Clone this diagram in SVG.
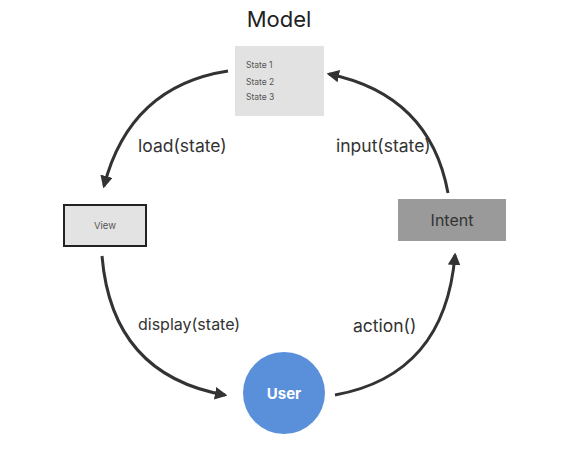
<svg xmlns="http://www.w3.org/2000/svg" width="587" height="466" viewBox="0 0 587 466">
  <defs>
    <marker id="arrow" viewBox="0 0 10 10" refX="8" refY="5" markerWidth="4.2" markerHeight="4.2" orient="auto-start-reverse" markerUnits="strokeWidth">
      <path d="M0,0 L10,5 L0,10 z" fill="#333"/>
    </marker>
    <style>
      .conn { fill: none; stroke: #333; stroke-width: 3; marker-end: url(#arrow); }
      .lbl { font-family: Inter, "Noto Sans", sans-serif; font-size: 17.5px; fill: #333; }
      .small { font-family: Inter, "Noto Sans", sans-serif; font-size: 8.5px; fill: #555; }
    </style>
  </defs>
  <rect width="587" height="466" fill="#fff"/>

  <g id="model">
    <text x="279" y="27" text-anchor="middle" font-family="Inter, 'Noto Sans', sans-serif" font-size="22" fill="#222">Model</text>
    <rect x="235" y="46" width="89" height="70" fill="#e2e2e2"/>
    <text class="small" x="246" y="67.5">State 1</text>
    <text class="small" x="246" y="85">State 2</text>
    <text class="small" x="246" y="99.5">State 3</text>
  </g>

  <g id="view">
    <rect x="64" y="205" width="82" height="41" fill="#e3e3e3" stroke="#222" stroke-width="2"/>
    <text x="105" y="229" text-anchor="middle" font-family="Inter, 'Noto Sans', sans-serif" font-size="9.5" fill="#555">View</text>
  </g>

  <g id="intent">
    <rect x="398" y="199" width="108" height="42" fill="#9a9a9a"/>
    <text x="452" y="226" text-anchor="middle" font-family="Inter, 'Noto Sans', sans-serif" font-size="16" fill="#333">Intent</text>
  </g>

  <g id="user">
    <circle cx="284" cy="393" r="41" fill="#5a8fd9"/>
    <text x="284" y="399" text-anchor="middle" font-family="Inter, 'Noto Sans', sans-serif" font-size="15" font-weight="bold" fill="#fff">User</text>
  </g>

  <g id="connectors">
    <path class="conn" d="M228,71 Q130,86 104,186"/>
    <path class="conn" d="M448,193 Q430,95 329,74"/>
    <path class="conn" d="M102,256 Q112,375 225,395"/>
    <path class="conn" d="M335,395 Q445,375 455,255"/>
    <text class="lbl" x="138" y="152">load(state)</text>
    <text class="lbl" x="336" y="152">input(state)</text>
    <text class="lbl" x="138" y="330" style="font-size:16px">display(state)</text>
    <text class="lbl" x="353" y="332">action()</text>
  </g>
</svg>
